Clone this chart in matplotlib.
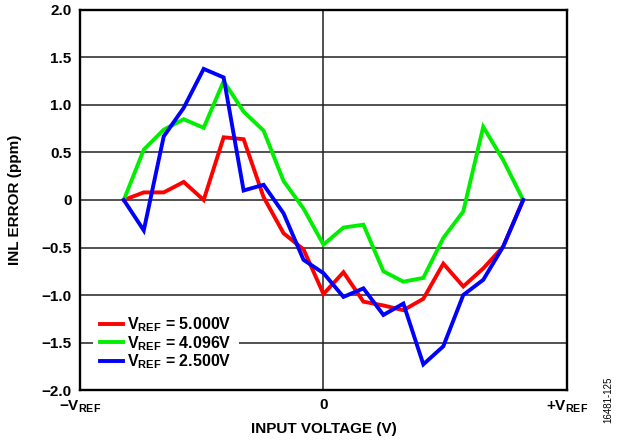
import matplotlib
matplotlib.use('Agg')
import matplotlib.pyplot as plt

plt.rcParams['font.family'] = ['Liberation Sans', 'DejaVu Sans']
plt.rcParams['font.weight'] = 'bold'
plt.rcParams['mathtext.fontset'] = 'custom'
plt.rcParams['mathtext.rm'] = 'Liberation Sans:bold'
plt.rcParams['mathtext.bf'] = 'Liberation Sans:bold'
plt.rcParams['mathtext.it'] = 'Liberation Sans:bold'

# input voltage as a fraction of VREF
x = [-0.82, -0.738, -0.656, -0.574, -0.492, -0.41, -0.328, -0.246, -0.164, -0.082, 0.0,
     0.082, 0.164, 0.246, 0.328, 0.41, 0.492, 0.574, 0.656, 0.738, 0.82]

inl_5000 = [0, 0.08, 0.08, 0.19, 0, 0.66, 0.64, 0.03, -0.35, -0.52, -0.99,
            -0.76, -1.07, -1.11, -1.16, -1.04, -0.67, -0.91, -0.72, -0.49, 0]
inl_4096 = [0, 0.53, 0.74, 0.85, 0.76, 1.25, 0.93, 0.73, 0.20, -0.09, -0.47,
            -0.29, -0.26, -0.75, -0.86, -0.82, -0.40, -0.12, 0.77, 0.42, 0]
inl_2500 = [0, -0.32, 0.67, 0.97, 1.38, 1.29, 0.10, 0.16, -0.14, -0.63, -0.77,
            -1.02, -0.93, -1.21, -1.09, -1.73, -1.54, -1.00, -0.84, -0.49, 0]

labels = [r'$\mathbf{V_{REF}}$ = 5.000V', r'$\mathbf{V_{REF}}$ = 4.096V', r'$\mathbf{V_{REF}}$ = 2.500V']
colors = ['#ff0000', '#00ee00', '#0000ff']

y_ticks = [2.0, 1.5, 1.0, 0.5, 0, -0.5, -1.0, -1.5, -2.0]
y_tick_labels = ['2.0', '1.5', '1.0', '0.5', '0', '\u22120.5', '\u22121.0', '\u22121.5', '\u22122.0']
x_ticks = [-1, 0, 1]
x_tick_labels = [r'$\mathbf{-V_{REF}}$', '0', r'$\mathbf{+V_{REF}}$']

fig = plt.figure(figsize=(6.18, 4.44), dpi=100)
ax = fig.add_axes([0.1294, 0.1216, 0.7881, 0.8559])

for series, lab, col in zip([inl_5000, inl_4096, inl_2500], labels, colors):
  ax.plot(x, series, color=col, lw=2.8, label=lab, solid_joinstyle='miter', zorder=3)

ax.set_xlim(-1, 1)
ax.set_ylim(-2, 2)
ax.set_yticks(y_ticks)
ax.set_yticklabels(y_tick_labels)
ax.set_xticks(x_ticks)
ax.set_xticklabels(x_tick_labels)
ax.tick_params(axis='both', length=0, labelsize=11)
ax.tick_params(axis='y', pad=6)
ax.tick_params(axis='x', pad=6)

for yv in y_ticks[1:-1]:
  ax.axhline(yv, color='#222222', lw=1.1, zorder=1)
ax.axvline(0, color='#222222', lw=1.1, zorder=1)

for sp in ax.spines.values():
  sp.set_linewidth(1.7)

ax.set_xlabel('INPUT VOLTAGE (V)', fontsize=11, fontweight='bold', labelpad=5)
ax.set_ylabel('INL ERROR (ppm)', fontsize=11, fontweight='bold', labelpad=14)

leg = ax.legend(loc='lower left', bbox_to_anchor=(0.027, 0.03), fontsize=11.5, frameon=True,
                handlelength=1.4, handletextpad=0.3, labelspacing=0.0,
                borderpad=0.45, borderaxespad=0, fancybox=False)
leg.get_frame().set_edgecolor('none')
leg.get_frame().set_facecolor('white')
leg.get_frame().set_alpha(1)
leg.set_zorder(5)

fig.text(0.985, 0.1, '16481-125', rotation=90, fontsize=7, fontweight='normal',
         ha='center', va='center')

fig.savefig('out.png', dpi=100)
